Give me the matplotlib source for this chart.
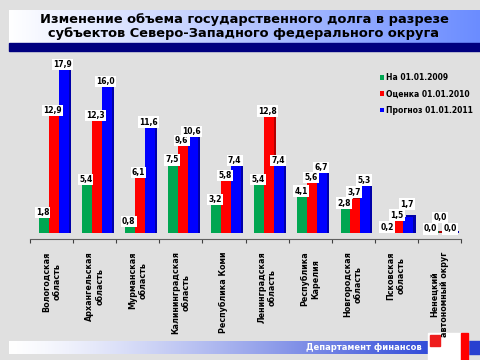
import numpy as np
import matplotlib
matplotlib.use('Agg')
import matplotlib.pyplot as plt
from matplotlib.patches import Rectangle

# data
regions = ['Вологодская\nобласть', 'Архангельская\nобласть',
           'Мурманская\nобласть', 'Калининградская\nобласть',
           'Республика Коми', 'Ленинградская\nобласть',
           'Республика\nКарелия', 'Новгородская\nобласть',
           'Псковская\nобласть', 'Ненецкий\nавтономный округ']
debt_2009 = [1.8, 5.4, 0.8, 7.5, 3.2, 5.4, 4.1, 2.8, 0.2, 0.0]
debt_2010 = [12.9, 12.3, 6.1, 9.6, 5.8, 12.8, 5.6, 3.7, 1.5, 0.0]
debt_2011 = [17.9, 16.0, 11.6, 10.6, 7.4, 7.4, 6.7, 5.3, 1.7, 0.0]
series_names = ['На 01.01.2009', 'Оценка 01.01.2010', 'Прогноз 01.01.2011']
colors = ['#00a651', '#ff0000', '#0000ff']
dark = ['#007a3a', '#b00000', '#0000a8']

title = ('Изменение объема государственного долга в разрезе\n'
         'субъектов Северо-Западного федерального округа')

plt.rcParams['font.family'] = ['DejaVu Sans']

fig = plt.figure(figsize=(4.8, 3.6), dpi=100)
fig.patch.set_facecolor('#e0e0e0')

# decoration layer in pixel coords
deco = fig.add_axes([0, 0, 1, 1], zorder=0)
deco.set_xlim(0, 480)
deco.set_ylim(360, 0)
deco.axis('off')
grad = np.linspace(0, 1, 256).reshape(1, -1)
c0 = np.array([1.0, 1.0, 1.0])
c1 = np.array([0.42, 0.55, 1.0])
img = c0 + (c1 - c0) * grad[..., None]
deco.imshow(img, extent=[9, 480, 43, 10], aspect='auto')
deco.add_patch(Rectangle((9, 43), 471, 8, color='#000080'))
deco.text(244, 26.5, title, ha='center', va='center', fontsize=9.4,
          fontweight='bold', color='black', linespacing=1.05)

c1f = np.array([0.2, 0.3, 0.85])
img2 = c0 + (c1f - c0) * (grad ** 1.3)[..., None]
deco.imshow(img2, extent=[9, 428, 354, 341], aspect='auto')
deco.add_patch(Rectangle((468, 341), 12, 13, color='#2840d0'))
deco.add_patch(Rectangle((428, 333), 40, 27, color='white'))
deco.add_patch(Rectangle((430, 335), 10, 11, color='#ee1c1c'))
deco.add_patch(Rectangle((461, 333), 7, 27, color='#ff0000'))
deco.text(422, 348, 'Департамент финансов', ha='right', va='center',
          fontsize=6, fontweight='bold', color='white')

ax = fig.add_axes([30 / 480, 1 - 239 / 360, 431 / 480, 187 / 360], zorder=1)
ax.patch.set_alpha(0)
x = np.arange(len(regions))
w = 0.23
shift = 0.05
series = [debt_2009, debt_2010, debt_2011]
for i, vals in enumerate(series):
    xs = x + (i - 1) * w + shift
    # shaded side to mimic depth
    ax.bar(xs + 0.05, np.array(vals) + 0.25, width=w, color=dark[i],
           zorder=2)
    ax.bar(xs, vals, width=w, color=colors[i], zorder=3,
           label=series_names[i])

# value labels, staggered when close
for j in range(len(regions)):
    prev = None
    for i, vals in enumerate(series):
        y = vals[j] + 0.45
        if prev is not None and abs(y - prev) < 1.0:
            y = prev + 1.2
        prev = y
        ax.text(x[j] + (i - 1) * w + shift - 0.03, y,
                ('%.1f' % vals[j]).replace('.', ','),
                ha='center', va='center', fontsize=5.5, fontweight='bold',
                zorder=5,
                bbox=dict(boxstyle='square,pad=0.15', fc='white', ec='none'))

ax.set_xlim(-0.5, 9.5)
ax.set_ylim(-0.65, 19.67)
ax.set_yticks([])
for s in ['left', 'right', 'top']:
    ax.spines[s].set_visible(False)
ax.spines['bottom'].set_color('#606060')
ax.set_xticks(np.arange(-0.5, 10, 1))
ax.set_xticklabels([])
ax.tick_params(axis='x', which='major', length=3, color='#404040')
ax.set_xticks(x, minor=True)
ax.set_xticklabels(regions, minor=True, rotation=90, fontsize=5.8,
                   fontweight='bold', multialignment='center')
ax.tick_params(axis='x', which='minor', length=0, pad=9)

leg = ax.legend(loc='upper left', bbox_to_anchor=(0.795, 0.925), frameon=False,
                handlelength=0.6, handleheight=0.6, handletextpad=0.3,
                labelspacing=0.97, prop={'size': 5.5, 'weight': 'bold'})

fig.savefig('out.png', dpi=100, facecolor=fig.get_facecolor())
